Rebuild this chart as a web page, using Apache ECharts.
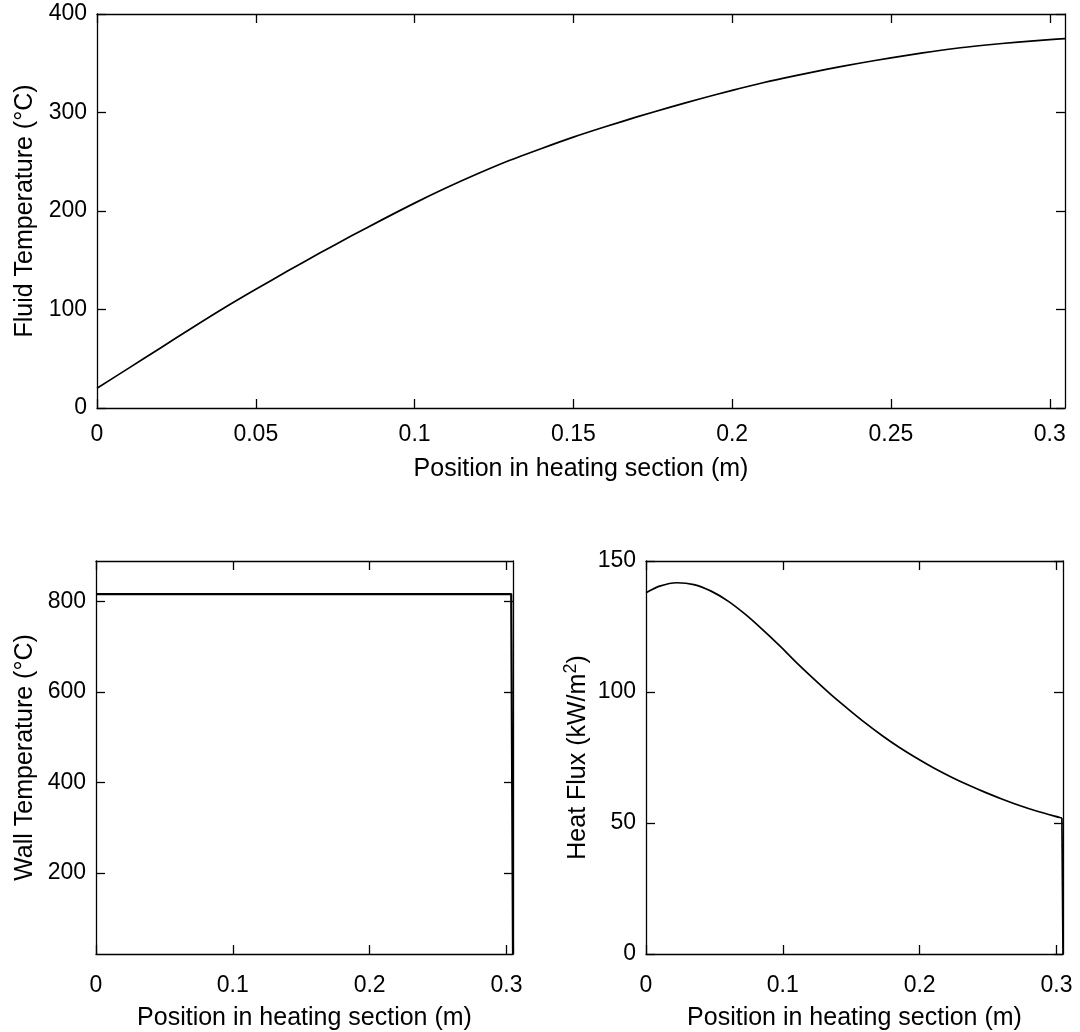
<!DOCTYPE html>
<html>
<head>
<meta charset="utf-8">
<script src="https://cdn.jsdelivr.net/npm/echarts@6/dist/echarts.min.js"></script>
<style>
html,body{margin:0;padding:0;background:#fff;}
#chart{width:1080px;height:1032px;}
</style>
</head>
<body>
<div id="chart"></div>
<script>
// ---- Data ----
const fluidX = [0, 0.01, 0.02, 0.03, 0.04, 0.05, 0.06, 0.07, 0.08, 0.09, 0.10, 0.11, 0.12, 0.13, 0.14, 0.15, 0.16, 0.17, 0.18, 0.19, 0.20, 0.21, 0.22, 0.23, 0.24, 0.25, 0.26, 0.27, 0.28, 0.29, 0.30, 0.3048];
const fluidT = [20, 40.5, 61, 81.5, 101.5, 120.5, 139, 157, 174.5, 191.5, 208, 223.5, 238, 251.5, 263.5, 275, 285.5, 295.5, 305, 314, 322.5, 330.5, 337.5, 344, 350, 355.5, 360.5, 365, 368.5, 371.5, 374, 375];

const wallX = [0, 0.10, 0.20, 0.3035, 0.3048];
const wallT = [816, 816, 816, 816, 21];

const fluxX = [0, 0.01, 0.0226, 0.035, 0.0476, 0.06, 0.0727, 0.085, 0.098, 0.11, 0.123, 0.135, 0.148, 0.16, 0.173, 0.185, 0.198, 0.21, 0.223, 0.236, 0.248, 0.261, 0.273, 0.286, 0.3025, 0.304, 0.3048];
const fluxQ = [137.9, 140.4, 141.7, 141, 138.5, 134.7, 129.6, 123.9, 117.5, 111.2, 104.8, 99.1, 93.4, 88.3, 83.2, 78.9, 74.7, 71.1, 67.6, 64.4, 61.7, 59.0, 56.7, 54.5, 52.1, 51.9, 0];

// tick labels
const topXTicks = [0, 0.05, 0.1, 0.15, 0.2, 0.25, 0.3];
const topYTicks = [0, 100, 200, 300, 400];
const botXTicks = [0, 0.1, 0.2, 0.3];
const wallYTicks = [200, 400, 600, 800];
const fluxYTicks = [0, 50, 100, 150];

const xTitle = 'Position in heating section (m)';
const FONT = 'Liberation Sans, Arial, sans-serif';
const TICK_FS = 23;
const TITLE_FS = 25;

function pairs(xs, ys){ return xs.map((x,i)=>[x, ys[i]]); }

function mainX(grid, ticks, max, gap, margin){
  return {
    type:'value', gridIndex:grid, min:0, max:max, position:'bottom',
    name:xTitle, nameLocation:'middle', nameGap:gap,
    nameTextStyle:{color:'#000', fontSize:TITLE_FS, fontFamily:FONT},
    axisLine:{show:true, onZero:false, lineStyle:{color:'#000', width:1.3}},
    axisTick:{show:true, inside:true, length:9, customValues:ticks, lineStyle:{color:'#000', width:1.3}},
    axisLabel:{show:true, customValues:ticks, margin:margin, color:'#000', fontSize:TICK_FS, fontFamily:FONT, formatter:v=>String(v)},
    splitLine:{show:false}
  };
}
function mirrorX(grid, ticks, max){
  return {
    type:'value', gridIndex:grid, min:0, max:max, position:'top',
    axisLine:{show:true, onZero:false, lineStyle:{color:'#000', width:1.3}},
    axisTick:{show:true, inside:true, length:9, customValues:ticks, lineStyle:{color:'#000', width:1.3}},
    axisLabel:{show:false}, splitLine:{show:false}
  };
}
function mainY(grid, ticks, min, max, name, gap, rich){
  const ts = {color:'#000', fontSize:TITLE_FS, fontFamily:FONT};
  if (rich) { ts.rich = rich; ts.lineHeight = 32; }
  return {
    type:'value', gridIndex:grid, min:min, max:max, position:'left',
    name:name, nameLocation:'middle', nameGap:gap, nameRotate:90,
    nameTextStyle:ts,
    axisLine:{show:true, onZero:false, lineStyle:{color:'#000', width:1.3}},
    axisTick:{show:true, inside:true, length:9, customValues:ticks, lineStyle:{color:'#000', width:1.3}},
    axisLabel:{show:true, customValues:ticks, margin:10, color:'#000', fontSize:TICK_FS, fontFamily:FONT},
    splitLine:{show:false}
  };
}
function mirrorY(grid, ticks, min, max){
  return {
    type:'value', gridIndex:grid, min:min, max:max, position:'right',
    axisLine:{show:true, onZero:false, lineStyle:{color:'#000', width:1.3}},
    axisTick:{show:true, inside:true, length:9, customValues:ticks, lineStyle:{color:'#000', width:1.3}},
    axisLabel:{show:false}, splitLine:{show:false}
  };
}

const chart = echarts.init(document.getElementById('chart'), null, {renderer:'canvas'});
const lineStyle = {color:'#000', width:1.7};
const nFlux = fluxX.length;
chart.setOption({
  animation:false,
  backgroundColor:'#fff',
  grid:[
    {left:97, top:14, width:968, height:394},
    {left:96, top:561, width:417, height:393},
    {left:646, top:561, width:417, height:393}
  ],
  xAxis:[
    mainX(0, topXTicks, 0.3048, 49, 15),
    mainX(1, botXTicks, 0.3048, 52, 20),
    mainX(2, botXTicks, 0.3048, 52, 20),
    mirrorX(0, topXTicks, 0.3048),
    mirrorX(1, botXTicks, 0.3048),
    mirrorX(2, botXTicks, 0.3048)
  ],
  yAxis:[
    mainY(0, topYTicks, 0, 400, 'Fluid Temperature (°C)', 59),
    mainY(1, wallYTicks, 21, 889, 'Wall Temperature (°C)', 58),
    mainY(2, fluxYTicks, 0, 150, 'Heat Flux (kW/m{sup|2})', 52, {sup:{fontSize:18, fontFamily:FONT, color:'#000', verticalAlign:'top', lineHeight:18}}),
    mirrorY(0, topYTicks, 0, 400),
    mirrorY(1, wallYTicks, 21, 889),
    mirrorY(2, fluxYTicks, 0, 150)
  ],
  series:[
    {type:'line', xAxisIndex:0, yAxisIndex:0, data:pairs(fluidX, fluidT), showSymbol:false, lineStyle:lineStyle, smooth:0.25},
    {type:'line', xAxisIndex:1, yAxisIndex:1, data:pairs(wallX, wallT), showSymbol:false, lineStyle:{color:'#000', width:2.2}, smooth:false},
    {type:'line', xAxisIndex:2, yAxisIndex:2, data:pairs(fluxX.slice(0, nFlux-1), fluxQ.slice(0, nFlux-1)), showSymbol:false, lineStyle:lineStyle, smooth:0.25},
    {type:'line', xAxisIndex:2, yAxisIndex:2, data:pairs(fluxX.slice(nFlux-2), fluxQ.slice(nFlux-2)), showSymbol:false, lineStyle:lineStyle, smooth:false}
  ]
});
</script>
</body>
</html>
